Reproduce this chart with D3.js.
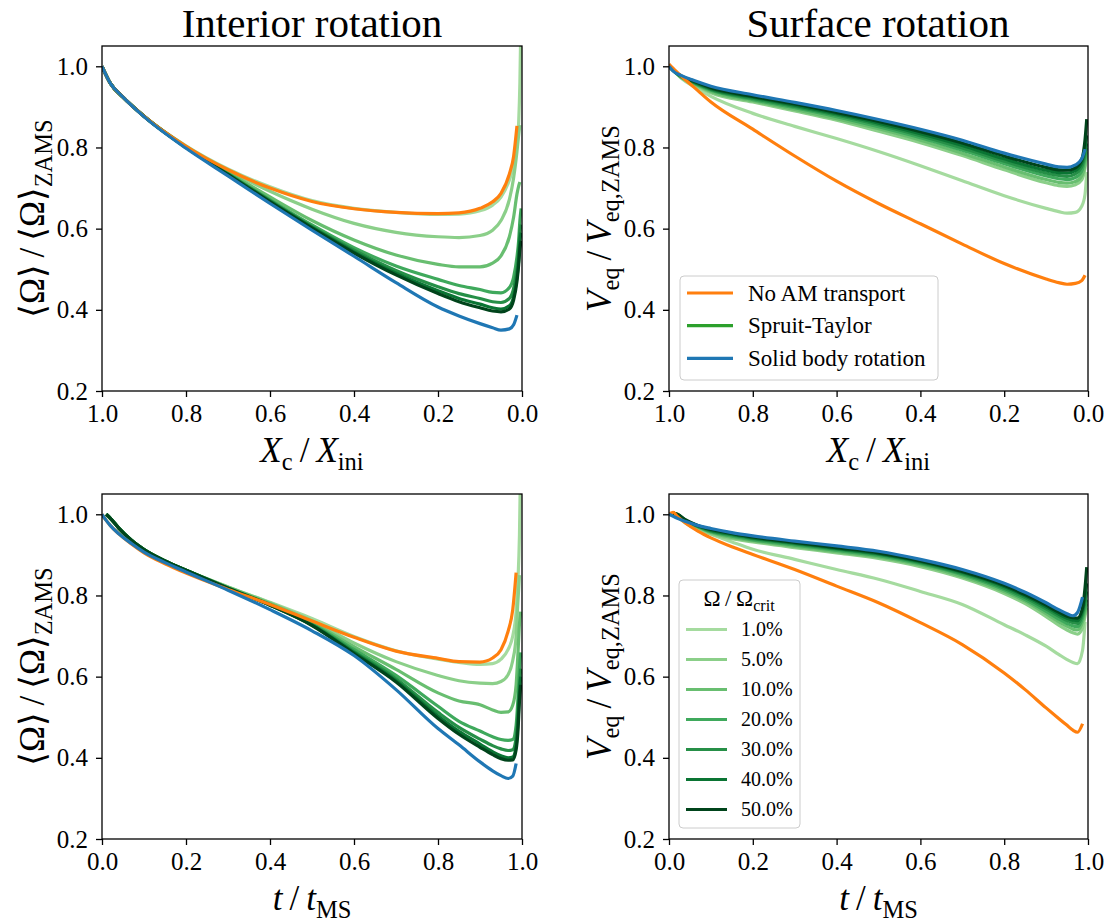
<!DOCTYPE html>
<meta charset="utf-8">

<script src="https://d3js.org/d3.v7.min.js"></script>

<style>
 body { margin: 0; background: #fff; }
 svg text { font-family: 'Liberation Serif', 'DejaVu Serif', serif; fill: #000; }
</style>

<div id="chart"></div>

<script>

 // ---- data ----
 const omegaLabels = ["1.0%", "5.0%", "10.0%", "20.0%", "30.0%", "40.0%", "50.0%"];
 const yTicks = [0.2, 0.4, 0.6, 0.8, 1.0];
 const xTicks = [0.0, 0.2, 0.4, 0.6, 0.8, 1.0];

 // interior rotation vs Xc/Xini
 const intXc_x = [1.0, 0.98, 0.95, 0.9, 0.8, 0.7, 0.6, 0.5, 0.4, 0.3, 0.2, 0.15, 0.1, 0.07, 0.05, 0.03, 0.02, 0.012, 0.008, 0.005, 0.002];
 const intXc_noAM = [1.0, .958, .924, .877, .803, .745, .700, .667, .649, .640, .637, .639, .650, .666, .687, .735, .778, .853, null, null, null];
 const intXc_solid = [1.0, .958, .924, .876, .798, .730, .662, .596, .532, .467, .407, .385, .366, .356, .350, .353, .363, .387, null, null, null];
 const intXc_st = [
   [1.0, .958, .924, .877, .804, .747, .703, .669, .650, .640, .635, .636, .644, .658, .678, .720, .755, .805, .860, .960, 1.15],
   [1.0, .958, .924, .877, .803, .744, .692, .648, .613, .591, .580, .578, .583, .596, .620, .672, .725, .790, .830, .855, null],
   [1.0, .958, .924, .877, .802, .739, .678, .620, .572, .535, .512, .506, .506, .515, .533, .580, .628, .685, .705, .715, null],
   [1.0, .958, .924, .877, .801, .736, .671, .609, .553, .508, .475, .460, .450, .443, .442, .455, .480, .530, .570, .620, .650],
   [1.0, .958, .924, .877, .800, .735, .669, .605, .547, .497, .457, .440, .428, .420, .418, .428, .452, .500, .540, .590, .610],
   [1.0, .958, .924, .877, .800, .734, .667, .603, .543, .490, .447, .428, .414, .405, .402, .410, .432, .480, .520, .570, .590],
   [1.0, .958, .924, .877, .800, .733, .666, .601, .540, .486, .440, .420, .405, .397, .395, .402, .424, .470, .510, .550, .570]
 ];

 // surface rotation vs Xc/Xini
 const surfXc_x = [1.0, 0.99, 0.97, 0.94, 0.9, 0.8, 0.7, 0.6, 0.5, 0.4, 0.3, 0.2, 0.1, 0.07, 0.05, 0.03, 0.015, 0.007, 0.003];
 const surfXc_noAM = [1.005, 0.995, 0.975, 0.948, 0.912, 0.845, 0.779, 0.717, 0.662, 0.612, 0.562, 0.514, 0.476, 0.467, 0.463, 0.465, 0.472, 0.485, null];
 const surfXc_solid = [1.0, 0.988, 0.977, 0.965, 0.951, 0.930, 0.911, 0.891, 0.869, 0.845, 0.818, 0.786, 0.759, 0.752, 0.751, 0.757, 0.772, 0.796, null];
 const surfXc_st = [
   [1.0, 0.99, 0.970, 0.950, 0.926, 0.884, 0.852, 0.822, 0.790, 0.755, 0.718, 0.681, 0.650, 0.642, 0.638, 0.640, 0.655, 0.685, 0.740],
   [1.0, 0.99, 0.971, 0.955, 0.935, 0.912, 0.890, 0.867, 0.840, 0.812, 0.780, 0.745, 0.713, 0.706, 0.704, 0.708, 0.720, 0.750, 0.780],
   [1.0, 0.99, 0.972, 0.957, 0.938, 0.915, 0.894, 0.871, 0.846, 0.818, 0.786, 0.752, 0.721, 0.714, 0.712, 0.716, 0.730, 0.760, 0.790],
   [1.0, 0.99, 0.973, 0.958, 0.941, 0.918, 0.898, 0.876, 0.851, 0.824, 0.793, 0.760, 0.730, 0.723, 0.721, 0.726, 0.742, 0.775, 0.800],
   [1.0, 0.99, 0.974, 0.960, 0.943, 0.921, 0.901, 0.880, 0.856, 0.829, 0.799, 0.766, 0.737, 0.731, 0.729, 0.735, 0.752, 0.785, 0.810],
   [1.0, 0.99, 0.975, 0.961, 0.945, 0.924, 0.904, 0.883, 0.860, 0.834, 0.805, 0.772, 0.744, 0.738, 0.737, 0.743, 0.762, 0.800, 0.830],
   [1.0, 0.99, 0.976, 0.963, 0.947, 0.926, 0.907, 0.886, 0.864, 0.839, 0.811, 0.779, 0.751, 0.745, 0.744, 0.750, 0.770, 0.820, 0.870]
 ];

 // interior rotation vs t/tMS
 const intT_x = [0, 0.01, 0.02, 0.04, 0.07, 0.1, 0.15, 0.2, 0.3, 0.4, 0.5, 0.6, 0.7, 0.8, 0.85, 0.9, 0.93, 0.95, 0.967, 0.978, 0.986, 0.99, 0.994, 0.997];
 const intT_noAM = [1.0, 0.985, 0.972, 0.952, 0.927, 0.905, 0.878, 0.855, 0.815, 0.778, 0.737, 0.697, 0.663, 0.645, 0.637, 0.636, 0.646, 0.666, 0.712, 0.765, 0.856, null, null, null];
 const intT_solid = [1.0, 0.985, 0.972, 0.952, 0.928, 0.907, 0.881, 0.858, 0.813, 0.765, 0.713, 0.652, 0.568, 0.472, 0.432, 0.390, 0.368, 0.356, 0.349, 0.355, 0.386, null, null, null];
 const intT_st = [
   [null, 1.0, 0.99, 0.966, 0.936, 0.913, 0.885, 0.862, 0.821, 0.783, 0.743, 0.699, 0.664, 0.643, 0.635, 0.630, 0.632, 0.643, 0.667, 0.700, 0.760, 0.830, 0.950, 1.150],
   [null, 1.0, 0.99, 0.966, 0.936, 0.913, 0.885, 0.862, 0.821, 0.782, 0.738, 0.683, 0.637, 0.603, 0.590, 0.584, 0.583, 0.588, 0.605, 0.640, 0.700, 0.780, 0.850, null],
   [null, 1.0, 0.99, 0.966, 0.936, 0.913, 0.885, 0.862, 0.820, 0.780, 0.733, 0.674, 0.618, 0.560, 0.540, 0.531, 0.518, 0.512, 0.513, 0.530, 0.580, 0.650, 0.730, 0.760],
   [null, 1.0, 0.99, 0.966, 0.936, 0.913, 0.885, 0.862, 0.819, 0.778, 0.730, 0.667, 0.603, 0.527, 0.490, 0.466, 0.452, 0.445, 0.443, 0.445, 0.480, 0.540, 0.620, 0.660],
   [null, 1.0, 0.99, 0.966, 0.936, 0.913, 0.885, 0.862, 0.818, 0.777, 0.728, 0.662, 0.595, 0.512, 0.475, 0.446, 0.430, 0.422, 0.418, 0.420, 0.450, 0.500, 0.580, 0.620],
   [null, 1.0, 0.99, 0.966, 0.936, 0.913, 0.885, 0.862, 0.818, 0.776, 0.727, 0.659, 0.590, 0.503, 0.465, 0.434, 0.415, 0.405, 0.400, 0.402, 0.430, 0.480, 0.560, 0.600],
   [null, 1.0, 0.99, 0.966, 0.936, 0.913, 0.885, 0.862, 0.818, 0.776, 0.726, 0.657, 0.587, 0.497, 0.458, 0.426, 0.408, 0.398, 0.394, 0.395, 0.420, 0.460, 0.540, 0.580]
 ];

 // surface rotation vs t/tMS
 const surfT_x = [0, 0.01, 0.02, 0.04, 0.07, 0.1, 0.15, 0.2, 0.3, 0.4, 0.5, 0.6, 0.7, 0.8, 0.85, 0.9, 0.93, 0.95, 0.964, 0.975, 0.987, 0.993, 0.997];
 const surfT_noAM = [1.0, 1.005, 0.995, 0.978, 0.958, 0.942, 0.920, 0.901, 0.864, 0.823, 0.782, 0.733, 0.679, 0.609, 0.568, 0.523, 0.497, 0.480, 0.468, 0.463, 0.484, null, null];
 const surfT_solid = [1.0, 0.995, 0.99, 0.982, 0.972, 0.965, 0.955, 0.947, 0.934, 0.922, 0.909, 0.889, 0.864, 0.830, 0.808, 0.782, 0.765, 0.755, 0.750, 0.758, 0.796, null, null];
 const surfT_st = [
   [null, 1.003, 0.995, 0.978, 0.962, 0.951, 0.932, 0.914, 0.889, 0.864, 0.840, 0.810, 0.778, 0.728, 0.703, 0.675, 0.655, 0.642, 0.635, 0.632, 0.665, 0.735, null],
   [null, 1.003, 0.996, 0.980, 0.966, 0.952, 0.940, 0.932, 0.918, 0.905, 0.891, 0.871, 0.843, 0.805, 0.780, 0.748, 0.727, 0.715, 0.708, 0.705, 0.720, 0.750, 0.770],
   [null, 1.003, 0.997, 0.982, 0.968, 0.955, 0.943, 0.935, 0.921, 0.908, 0.895, 0.875, 0.847, 0.810, 0.786, 0.755, 0.735, 0.724, 0.717, 0.715, 0.735, 0.760, 0.780],
   [null, 1.003, 0.998, 0.983, 0.969, 0.957, 0.946, 0.937, 0.924, 0.911, 0.898, 0.878, 0.851, 0.814, 0.790, 0.761, 0.742, 0.731, 0.725, 0.723, 0.745, 0.770, 0.790],
   [null, 1.003, 0.999, 0.984, 0.970, 0.959, 0.949, 0.940, 0.927, 0.914, 0.901, 0.881, 0.854, 0.818, 0.795, 0.767, 0.749, 0.738, 0.733, 0.731, 0.755, 0.785, 0.810],
   [null, 1.003, 1.000, 0.985, 0.971, 0.961, 0.951, 0.942, 0.929, 0.916, 0.903, 0.883, 0.857, 0.822, 0.799, 0.772, 0.754, 0.744, 0.739, 0.738, 0.762, 0.800, 0.830],
   [null, 1.003, 1.000, 0.986, 0.972, 0.963, 0.953, 0.944, 0.931, 0.918, 0.905, 0.885, 0.859, 0.825, 0.802, 0.776, 0.759, 0.749, 0.745, 0.744, 0.770, 0.820, 0.870]
 ];

 // ---- styles ----
 const colorNoAM = "#ff7f0e";
 const colorSolid = "#1f77b4";
 const colorST = "#2ca02c";
 const greens = ["#a5db9f", "#8bcf89", "#68be70", "#3fa95c", "#268f47", "#0a7433", "#00441b"];
 const lineW = 3.2;
 const tickFont = "25px";
 const labelFont = 35;

 const svg = d3.select("#chart")
               .append("svg")
               .attr("width", 1112)
               .attr("height", 924)
               .style("background-color", "#fff");

 // writes a label made of parts: {t, it, sub}
 function mathText(sel, parts, size) {
     let shift = 0;
     parts.forEach(p => {
         const target = p.sub ? size * 0.22 : 0;
         sel.append("tspan")
            .attr("dy", target - shift)
            .style("font-size", (p.sub ? size * 0.7 : size) + "px")
            .style("font-style", p.it ? "italic" : "normal")
            .text(p.t);
         shift = target;
     });
 }

 const slash = {t: "\u2009/\u2009"};
 const labXc = [{t: "X", it: true}, {t: "c", sub: true}, slash, {t: "X", it: true}, {t: "ini", sub: true}];
 const labT = [{t: "t", it: true}, slash, {t: "t", it: true}, {t: "MS", sub: true}];
 const labOmega = [{t: "\u27E8\u03A9\u27E9"}, slash, {t: "\u27E8\u03A9\u27E9"}, {t: "ZAMS", sub: true}];
 const labV = [{t: "V", it: true}, {t: "eq", sub: true}, slash, {t: "V", it: true}, {t: "eq,ZAMS", sub: true}];

 const panels = [
     {x0: 102, x1: 522, y0: 46, y1: 391, dom: [1, 0], xs: intXc_x, noAM: intXc_noAM, solid: intXc_solid, st: intXc_st, xlab: labXc, ylab: labOmega},
     {x0: 669, x1: 1088, y0: 46, y1: 391, dom: [1, 0], xs: surfXc_x, noAM: surfXc_noAM, solid: surfXc_solid, st: surfXc_st, xlab: labXc, ylab: labV},
     {x0: 102, x1: 522, y0: 494, y1: 839, dom: [0, 1], xs: intT_x, noAM: intT_noAM, solid: intT_solid, st: intT_st, xlab: labT, ylab: labOmega},
     {x0: 669, x1: 1088, y0: 494, y1: 839, dom: [0, 1], xs: surfT_x, noAM: surfT_noAM, solid: surfT_solid, st: surfT_st, xlab: labT, ylab: labV}
 ];

 panels.forEach((p, i) => {
     const x = d3.scaleLinear().domain(p.dom).range([p.x0, p.x1]);
     const y = d3.scaleLinear().domain([0.2, 1.05]).range([p.y1, p.y0]);

     svg.append("clipPath").attr("id", "clip" + i)
        .append("rect")
        .attr("x", p.x0).attr("y", p.y0)
        .attr("width", p.x1 - p.x0).attr("height", p.y1 - p.y0);

     const line = d3.line()
                    .defined(d => d[1] != null)
                    .x(d => x(d[0]))
                    .y(d => y(d[1]))
                    .curve(d3.curveMonotoneX);

     const series = p.st.map((ys, k) => ({ys: ys, color: greens[k]}))
                     .concat([{ys: p.noAM, color: colorNoAM}, {ys: p.solid, color: colorSolid}]);

     svg.append("g")
        .attr("clip-path", `url(#clip${i})`)
        .selectAll("path")
        .data(series)
        .join("path")
        .attr("fill", "none")
        .attr("stroke", d => d.color)
        .attr("stroke-width", lineW)
        .attr("stroke-linecap", "butt")
        .attr("d", d => line(p.xs.map((v, j) => [v, d.ys[j]])));

     // axes
     const ax = svg.append("g")
                   .attr("transform", `translate(0,${p.y1})`)
                   .call(d3.axisBottom(x).tickValues(xTicks).tickFormat(d3.format(".1f")).tickSize(6).tickPadding(7).tickSizeOuter(0));
     const ay = svg.append("g")
                   .attr("transform", `translate(${p.x0},0)`)
                   .call(d3.axisLeft(y).tickValues(yTicks).tickFormat(d3.format(".1f")).tickSize(6).tickPadding(8).tickSizeOuter(0));
     [ax, ay].forEach(a => {
         a.select(".domain").remove();
         a.selectAll(".tick line").attr("stroke", "#000").attr("stroke-width", 1.3);
         a.selectAll("text").style("font-size", tickFont).style("font-family", "'Liberation Serif', serif");
     });

     // frame
     svg.append("rect")
        .attr("x", p.x0).attr("y", p.y0)
        .attr("width", p.x1 - p.x0).attr("height", p.y1 - p.y0)
        .attr("fill", "none").attr("stroke", "#000").attr("stroke-width", 1.3);

     // axis labels
     const cx = (p.x0 + p.x1) / 2, cy = (p.y0 + p.y1) / 2;
     mathText(svg.append("text").attr("x", cx).attr("y", p.y1 + 71).attr("text-anchor", "middle"), p.xlab, labelFont);
     mathText(svg.append("text").attr("text-anchor", "middle")
                 .attr("transform", `translate(${p.x0 - 58},${cy}) rotate(-90)`), p.ylab, labelFont);
 });

 // titles
 svg.append("text").attr("x", 312).attr("y", 37).attr("text-anchor", "middle").style("font-size", "41px").text("Interior rotation");
 svg.append("text").attr("x", 878).attr("y", 37).attr("text-anchor", "middle").style("font-size", "41px").text("Surface rotation");

 // legend: transport models
 const leg1 = svg.append("g");
 leg1.append("rect").attr("x", 680).attr("y", 276).attr("width", 258).attr("height", 104).attr("rx", 4)
     .attr("fill", "#fff").attr("fill-opacity", 0.8).attr("stroke", "#cccccc").attr("stroke-width", 1);
 const models = [["No AM transport", colorNoAM], ["Spruit-Taylor", colorST], ["Solid body rotation", colorSolid]];
 models.forEach((m, k) => {
     const yy = 293 + k * 32.7;
     leg1.append("line").attr("x1", 687).attr("x2", 733).attr("y1", yy).attr("y2", yy)
         .attr("stroke", m[1]).attr("stroke-width", lineW);
     leg1.append("text").attr("x", 748).attr("y", yy).attr("dy", "0.33em").style("font-size", "23px").text(m[0]);
 });

 // legend: initial rotation rates
 const leg2 = svg.append("g");
 leg2.append("rect").attr("x", 679).attr("y", 580).attr("width", 121).attr("height", 248).attr("rx", 4)
     .attr("fill", "#fff").attr("fill-opacity", 0.8).attr("stroke", "#cccccc").attr("stroke-width", 1);
 mathText(leg2.append("text").attr("x", 739).attr("y", 606).attr("text-anchor", "middle"),
          [{t: "\u03A9"}, slash, {t: "\u03A9"}, {t: "crit", sub: true}], 23);
 omegaLabels.forEach((lab, k) => {
     const yy = 629.5 + k * 30;
     leg2.append("line").attr("x1", 686).attr("x2", 727).attr("y1", yy).attr("y2", yy)
         .attr("stroke", greens[k]).attr("stroke-width", lineW);
     leg2.append("text").attr("x", 741).attr("y", yy).attr("dy", "0.33em").style("font-size", "20px").text(lab);
 });

</script>
